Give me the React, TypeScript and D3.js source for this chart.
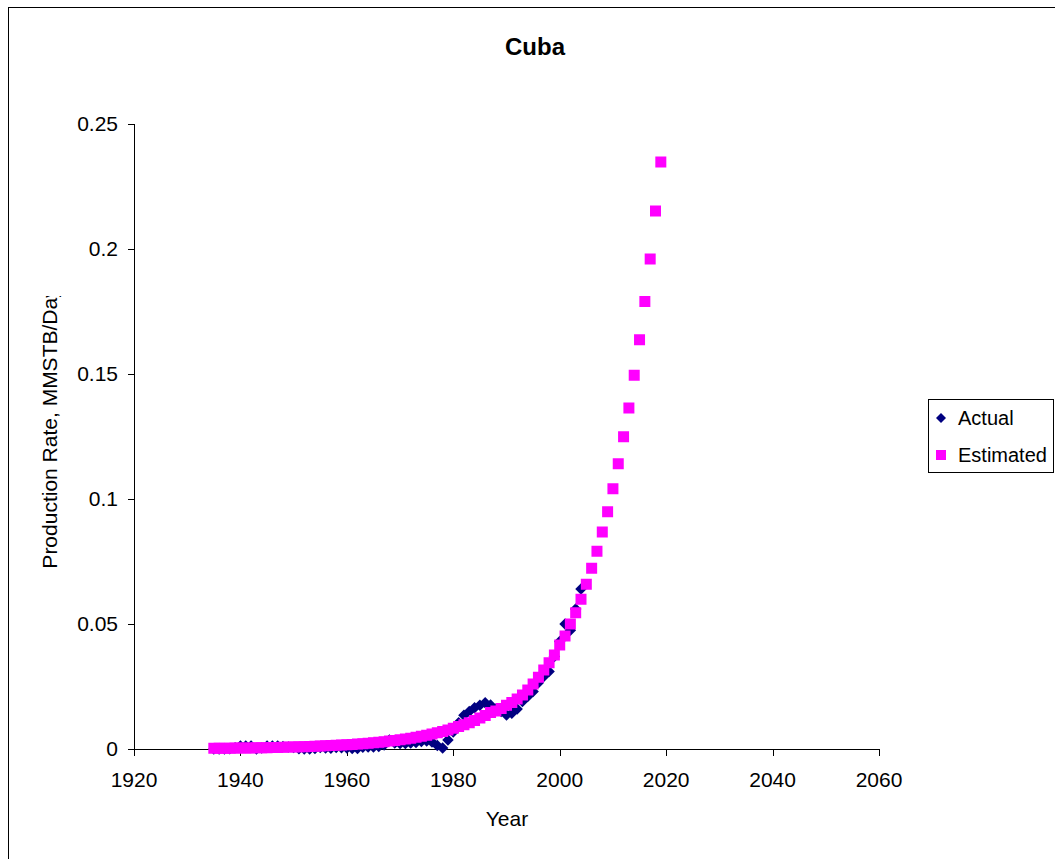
import * as d3 from 'd3'

// years 1935..2004 (actual) and 1935..2019 (estimated)
const ACTUAL_START = 1935
const actualRate = [
  0.0, 0.0, 0.0, 0.0001, 0.0005, 0.0012, 0.0012, 0.0012, 0.0, 0.0004,
  0.0012, 0.0012, 0.0012, 0.001, 0.0008, 0.0006, 0.0001, 0.0, 0.0, 0.0002,
  0.0006, 0.0004, 0.0003, 0.0006, 0.0005, 0.0004, 0.0002, 0.0002, 0.0007, 0.0008,
  0.0008, 0.001, 0.0016, 0.0036, 0.0024, 0.0022, 0.0022, 0.0024, 0.0026, 0.003,
  0.0032, 0.0028, 0.0014, 0.0004, 0.0036, 0.0068, 0.0105, 0.0135, 0.015, 0.0165,
  0.0175, 0.0185, 0.0176, 0.016, 0.015, 0.0136, 0.0143, 0.016, 0.019, 0.021,
  0.023, 0.0265, 0.029, 0.031, 0.037, 0.043, 0.05, 0.0475, 0.056, 0.064,
]

const ESTIMATED_START = 1935
const estimatedRate = [
  0.0003, 0.0003, 0.0003, 0.0003, 0.0004, 0.0004, 0.0004, 0.0004, 0.0005, 0.0005,
  0.0005, 0.0006, 0.0006, 0.0007, 0.0008, 0.0008, 0.0009, 0.0009, 0.001, 0.0011,
  0.0012, 0.0013, 0.0014, 0.0015, 0.0016, 0.0017, 0.0018, 0.002, 0.0021, 0.0023,
  0.0025, 0.0027, 0.0029, 0.0032, 0.0034, 0.0037, 0.004, 0.0043, 0.0047, 0.0051,
  0.0055, 0.006, 0.0065, 0.007, 0.0076, 0.0083, 0.009, 0.0097, 0.0105, 0.0114,
  0.0124, 0.0134, 0.0146, 0.0152, 0.0162, 0.0175, 0.0186, 0.02, 0.0216, 0.0236,
  0.026, 0.0287, 0.0316, 0.0345, 0.0376, 0.0416, 0.0452, 0.05, 0.0545, 0.0599,
  0.0659, 0.0723, 0.0791, 0.0868, 0.0949, 0.1041, 0.1141, 0.1249, 0.1364, 0.1495,
  0.1637, 0.179, 0.196, 0.2152, 0.2348,
]

const xTicks = [1920, 1940, 1960, 1980, 2000, 2020, 2040, 2060]
const yTicks = [0, 0.05, 0.1, 0.15, 0.2, 0.25]
const yTickLabels = ['0', '0.05', '0.1', '0.15', '0.2', '0.25']

const W = 1055
const H = 859
const FONT = '"Liberation Sans", Arial, sans-serif'

export default function App() {
  const x = d3.scaleLinear().domain([1920, 2060]).range([134, 879])
  const y = d3.scaleLinear().domain([0, 0.25]).range([749, 124])

  const actual = actualRate.map((v, i) => ({ year: ACTUAL_START + i, v }))
  const estimated = estimatedRate.map((v, i) => ({ year: ESTIMATED_START + i, v }))

  const diamond = d3.symbol().type(d3.symbolDiamond2).size(84)()
  const legendDiamond = d3.symbol().type(d3.symbolDiamond2).size(64)()

  return (
    <>
      <style>{`body{margin:0;overflow:hidden}`}</style>
      <svg width={W} height={H} style={{ display: 'block', fontFamily: FONT }}>
        <defs>
          <clipPath id="ylab">
            <rect x={0} y={296} width={120} height={500} />
          </clipPath>
        </defs>
        <rect x={0} y={0} width={W} height={H} fill="#fff" />
        <rect x={8.5} y={7.5} width={1100} height={900} fill="#fff" stroke="#000" strokeWidth={1} />

        <text x={535} y={55} textAnchor="middle" fontSize={24} fontWeight="bold">Cuba</text>

        {/* axes */}
        <line x1={134.5} x2={134.5} y1={124} y2={749} stroke="#000" />
        <line x1={134} x2={879} y1={749.5} y2={749.5} stroke="#000" />
        {yTicks.map((t, i) => (
          <g key={t}>
            <line x1={128} x2={134} y1={Math.round(y(t)) + 0.5} y2={Math.round(y(t)) + 0.5} stroke="#000" />
            <text x={118} y={y(t)} dy="0.35em" textAnchor="end" fontSize={21}>{yTickLabels[i]}</text>
          </g>
        ))}
        {xTicks.map(t => (
          <g key={t}>
            <line x1={Math.round(x(t)) + 0.5} x2={Math.round(x(t)) + 0.5} y1={749} y2={756} stroke="#000" />
            <text x={x(t)} y={787} textAnchor="middle" fontSize={21}>{t}</text>
          </g>
        ))}

        <text x={507} y={826} textAnchor="middle" fontSize={21}>Year</text>
        <g clipPath="url(#ylab)">
          <text transform="translate(57,428) rotate(-90)" textAnchor="middle" fontSize={21}>
            Production Rate, MMSTB/Day
          </text>
        </g>

        {/* actual */}
        {actual.map(d => (
          <path key={d.year} d={diamond!} transform={`translate(${x(d.year)},${y(d.v)})`} fill="#000080" />
        ))}
        {/* estimated */}
        {estimated.map(d => (
          <rect key={d.year} x={x(d.year) - 5.5} y={y(d.v) - 5.5} width={11} height={11} fill="#ff00ff" />
        ))}

        {/* legend */}
        <rect x={928.5} y={399.5} width={125} height={73} fill="#fff" stroke="#000" />
        <path d={legendDiamond!} transform="translate(941,418)" fill="#000080" />
        <text x={958} y={418} dy="0.35em" fontSize={20}>Actual</text>
        <rect x={936} y={450} width={10} height={10} fill="#ff00ff" />
        <text x={958} y={455} dy="0.35em" fontSize={20}>Estimated</text>
      </svg>
    </>
  )
}
